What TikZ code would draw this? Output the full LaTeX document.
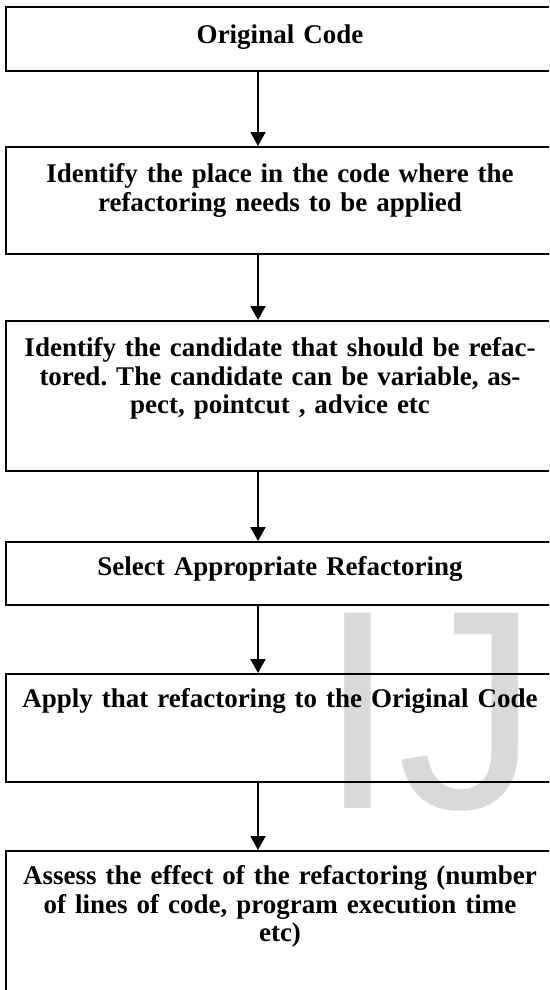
\documentclass[tikz,border=0pt]{standalone}
\usepackage{fontspec}
\setmainfont{Liberation Serif}
\newfontfamily\marksans{Liberation Sans}
\usepackage{xcolor}
\usepackage{tikz}
\usetikzlibrary{arrows.meta,positioning}
\frenchspacing

\begin{document}
\begin{tikzpicture}[x=1pt,y=1pt]
\tikzstyle{block} = [rectangle, draw=black, line width=1.7pt, text width=528pt, inner xsep=10pt, inner ysep=0pt, align=center, anchor=north, font=\fontsize{27pt}{28.5pt}\selectfont\bfseries]
\tikzstyle{line} = [draw, line width=2pt, -{Triangle[width=15pt,length=14pt]}]
\tikzstyle{watermark} = [font=\marksans\fontsize{284pt}{284pt}\selectfont, text=black!15, anchor=base west, inner sep=0pt]

\useasboundingbox (0,0) rectangle (549,-990);
\clip (0,0) rectangle (549,-990);
\coordinate (arrx) at (258,0);

% watermark
\node [watermark] (logo) at (318,-808) {IJ};

% steps
\node [block, text height=36pt, text depth=28pt] (orig) at (280,-6.5) {Original Code};
\node [block, text height=36pt, text depth=71pt] (place) at (280,-146) {Identify the place in the code where the\\ refactoring needs to be applied};
\node [block, text height=36pt, text depth=114pt] (cand) at (280,-320) {Identify the candidate that should be refac-\\ tored. The candidate can be variable, as-\\ pect, pointcut , advice etc};
\node [block, text height=34pt, text depth=29pt] (select) at (280,-541) {Select Appropriate Refactoring};
\node [block, text height=34pt, text depth=74pt] (apply) at (280,-673) {Apply that refactoring to the Original Code};
\node [block, text height=34pt, text depth=150pt] (assess) at (280,-850) {Assess the effect of the refactoring (number\\ of lines of code, program execution time\\ etc)};

\tikzstyle{every path}=[line]
	\path (orig.south -| arrx) -- (place.north -| arrx);
	\path (place.south -| arrx) -- (cand.north -| arrx);
	\path (cand.south -| arrx) -- (select.north -| arrx);
	\path (select.south -| arrx) -- (apply.north -| arrx);
	\path (apply.south -| arrx) -- (assess.north -| arrx);
\end{tikzpicture}
\end{document}
